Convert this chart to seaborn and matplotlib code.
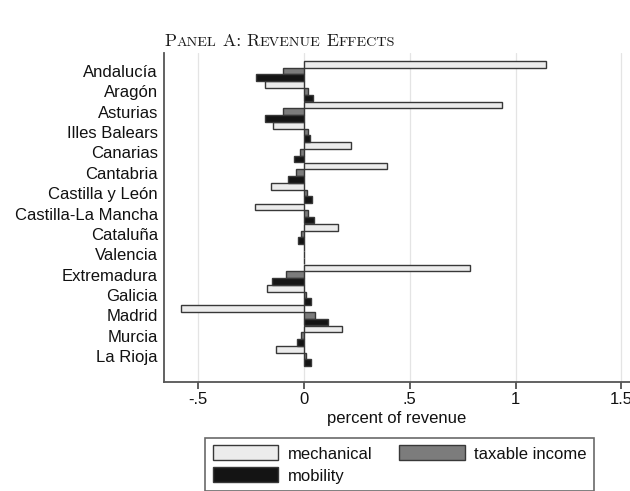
import numpy as np
import pandas as pd
import matplotlib
matplotlib.use("Agg")
import matplotlib.pyplot as plt
import seaborn as sns
from matplotlib.offsetbox import TextArea, HPacker, AnchoredOffsetbox
from matplotlib.patches import Patch

# Revenue effects by autonomous community (percent of revenue)
regions = ["Andalucía", "Aragón", "Asturias", "Illes Balears", "Canarias",
           "Cantabria", "Castilla y León", "Castilla-La Mancha", "Cataluña",
           "Valencia", "Extremadura", "Galicia", "Madrid", "Murcia", "La Rioja"]
mechanical = [1.145, -0.186, 0.936, -0.145, 0.221, 0.391, -0.158, -0.230,
              0.159, 0.0, 0.785, -0.173, -0.583, 0.181, -0.134]
taxable_income = [-0.098, 0.017, -0.098, 0.017, -0.019, -0.040, 0.016, 0.020,
                  -0.014, 0.0, -0.085, 0.010, 0.052, -0.013, 0.010]
mobility = [-0.227, 0.044, -0.183, 0.030, -0.046, -0.076, 0.036, 0.049,
            -0.030, 0.0, -0.151, 0.035, 0.113, -0.035, 0.033]

components = ["mechanical", "taxable income", "mobility"]
colors = {"mechanical": "#ececec", "taxable income": "#7c7c7c", "mobility": "#141414"}
tick_values = [-0.5, 0, 0.5, 1, 1.5]
tick_labels = ["-.5", "0", ".5", "1", "1.5"]

sns.set_theme(style="white")
plt.rcParams["font.family"] = ["Liberation Sans", "DejaVu Sans"]
ink = "#111111"
plt.rcParams.update({"text.color": ink, "axes.labelcolor": ink,
                     "xtick.color": ink, "ytick.color": ink})

df = pd.DataFrame({
    "region": regions * 3,
    "component": np.repeat(components, len(regions)),
    "value": mechanical + taxable_income + mobility,
})

W, H = 630, 491
fig = plt.figure(figsize=(W / 100, H / 100), dpi=100)
ax_left, ax_right, ax_top, ax_bottom = 163.5, 630, 53, 382
ax = fig.add_axes([ax_left / W, 1 - ax_bottom / H,
                   (ax_right - ax_left) / W, (ax_bottom - ax_top) / H])

ax.set_axisbelow(True)
ax.grid(axis="x", color="#e4e4e4", linewidth=0.9)
ax.grid(axis="y", visible=False)

sns.barplot(data=df, y="region", x="value", hue="component",
            order=regions, hue_order=components, palette=colors,
            orient="h", width=0.98, saturation=1, errorbar=None,
            edgecolor="#383838", linewidth=1.0, legend=False, ax=ax)

# axis ranges in data units
zero_px, unit_px = 304, 211.5
ax.set_xlim((ax_left - zero_px) / unit_px, (ax_right - zero_px) / unit_px)
row_px, first_row_px = 20.36, 71
ax.set_ylim(14 + (ax_bottom - 356) / row_px, -(first_row_px - ax_top) / row_px)

ax.set_xticks(tick_values)
ax.set_xticklabels(tick_labels)
ax.set_xlabel("percent of revenue", fontsize=12, labelpad=3)
ax.set_ylabel("")
ax.tick_params(axis="x", direction="out", length=5, width=1.1, color="#333333",
               labelsize=12, pad=2, bottom=True)
ax.tick_params(axis="y", length=0, labelsize=12, pad=4)

for side in ["top", "right"]:
    ax.spines[side].set_visible(False)
for side in ["left", "bottom"]:
    ax.spines[side].set_color("#555555")
    ax.spines[side].set_linewidth(1.3)

# small-caps title
big = dict(fontfamily="cmr10", fontsize=12.8, color="#1a1a1a")
small = dict(fontfamily="cmr10", fontsize=10.2, color="#1a1a1a")
pieces = [("P", big), ("ANEL", small), (" A: R", big), ("EVENUE", small),
          (" E", big), ("FFECTS", small)]
title_box = HPacker(children=[TextArea(t, textprops=p) for t, p in pieces],
                    align="baseline", pad=0, sep=0)
anchored = AnchoredOffsetbox(loc="center", child=title_box, pad=0, frameon=False,
                             bbox_to_anchor=(280 / W, 1 - 41 / H),
                             bbox_transform=fig.transFigure, borderpad=0)
fig.add_artist(anchored)

# legend in column order: mechanical, mobility | taxable income
handles = [Patch(facecolor=colors[c], edgecolor="#383838", linewidth=1.0, label=c)
           for c in ["mechanical", "mobility", "taxable income"]]
leg = fig.legend(handles=handles, ncol=2, loc="upper left",
                 bbox_to_anchor=(205 / W, 1 - 438 / H), fontsize=12,
                 frameon=True, fancybox=False, edgecolor="#444444",
                 handlelength=3.95, handleheight=1.0, handletextpad=0.55,
                 columnspacing=1.6, labelspacing=0.35, borderpad=0.45,
                 borderaxespad=0)
leg.get_frame().set_linewidth(1.2)

fig.savefig("out.png", dpi=100)
